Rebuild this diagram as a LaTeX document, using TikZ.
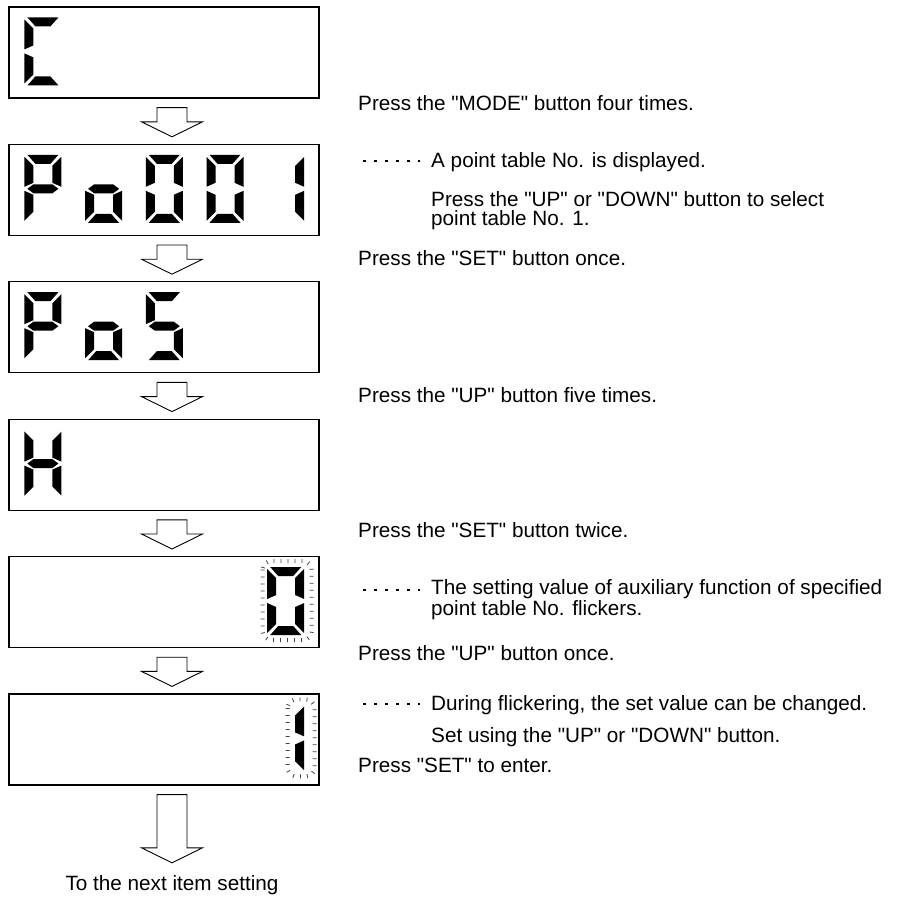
\documentclass[tikz,border=0pt]{standalone}
\usepackage{fontspec}
\setmainfont{Liberation Sans}[Ligatures=TeXOff]
\usetikzlibrary{positioning, calc, decorations.pathreplacing}

\newcommand{\lcdchar}[3]{%
  \foreach \s in {#3} \pic at ($(#1.north west)+(#2,11)$) {seg\s};}
\newcommand{\blockarrow}[3]{%
  \coordinate (top) at ($(#1.south)+(8,9)$);
  \coordinate (tip) at ($(top |- #2)+(0,-#3)$);
  \draw[blockarr] ($(top)+(-15,0)$) -- ($(top)+(15,0)$) -- ($(tip)+(15,-15)$)
    -- ($(tip)+(30.5,-15)$) -- (tip) -- ($(tip)+(-30.5,-15)$) -- ($(tip)+(-15,-15)$) -- cycle;}

\begin{document}
\begin{tikzpicture}[x=1pt, y=-1pt, node distance=45.2pt,
  lcd/.style={draw, line width=1.2pt, minimum width=310pt, minimum height=91pt, inner sep=0pt},
  blockarr/.style={draw, fill=white, line width=0.9pt, line join=miter},
  flicker/.style={draw=black!75, line width=0.8pt, rounded corners=9pt, decorate,
                  decoration={ticks, segment length=7pt, amplitude=2pt}},
  txt/.style={font=\fontsize{20.7}{19}\selectfont, anchor=base west, inner sep=0pt, align=left},
  leader/.style={line width=2.5pt, dash pattern=on 2.5pt off 8.5pt},
  sega/.pic={\fill (3,0) -- (34,0) -- (26,9) -- (11,9) -- cycle;},
  segb/.pic={\fill (37,2) -- (37,32) -- (28,28) -- (28,11) -- cycle;},
  segc/.pic={\fill (37,36) -- (37,66) -- (28,57) -- (28,40) -- cycle;},
  segd/.pic={\fill (3,68) -- (34,68) -- (26,59) -- (11,59) -- cycle;},
  sege/.pic={\fill (0,36) -- (0,66) -- (9,57) -- (9,40) -- cycle;},
  segf/.pic={\fill (0,2) -- (0,32) -- (9,28) -- (9,11) -- cycle;},
  segg/.pic={\fill (3,34) -- (9,29.5) -- (28,29.5) -- (34,34) -- (28,38.5) -- (9,38.5) -- cycle;},
]
  \useasboundingbox (0,0) rectangle (912,897);

  \node[lcd] (d1) at (164,52.5) {};
  \node[lcd, below=of d1] (d2) {};
  \node[lcd, below=of d2] (d3) {};
  \node[lcd, below=of d3] (d4) {};
  \node[lcd, below=of d4] (d5) {};
  \node[lcd, below=of d5] (d6) {};

  \lcdchar{d1}{16}{a,f,e,d}
  \lcdchar{d2}{16}{a,b,f,g,e}
  \lcdchar{d2}{76.7}{g,c,d,e}
  \lcdchar{d2}{137.4}{a,b,c,d,e,f}
  \lcdchar{d2}{198.1}{a,b,c,d,e,f}
  \lcdchar{d2}{258.8}{b,c}
  \lcdchar{d3}{16}{a,b,f,g,e}
  \lcdchar{d3}{76.7}{g,c,d,e}
  \lcdchar{d3}{137.4}{a,f,g,c,d}
  \lcdchar{d4}{16}{f,b,g,e,c}
  \lcdchar{d5}{258.8}{a,b,c,d,e,f}
  \lcdchar{d6}{258.8}{b,c}

  \draw[flicker] ($(d5.north east)+(-57,5)$) rectangle ($(d5.north east)+(-8,84)$);
  \draw[flicker] ($(d6.north east)+(-32,6)$) rectangle ($(d6.north east)+(-5,83)$);

  \node[txt, anchor=base] (nxt) at (172,890) {To the next item setting};

  \blockarrow{d1}{d2.north}{7}
  \blockarrow{d2}{d3.north}{7}
  \blockarrow{d3}{d4.north}{7}
  \blockarrow{d4}{d5.north}{7}
  \blockarrow{d5}{d6.north}{7}
  \blockarrow{d6}{nxt.north}{12}

  \node[txt] (t1) at (358,110) {Press the "MODE" button four times.};
  \node[txt] (t2) at (431,167) {A point table No. is displayed.};
  \node[txt] (t3) at (431,225) {Press the "UP" or "DOWN" button to select\\point table No. 1.};
  \node[txt] (t4) at (358,265) {Press the "SET" button once.};
  \node[txt] (t5) at (358,402) {Press the "UP" button five times.};
  \node[txt] (t6) at (358,537) {Press the "SET" button twice.};
  \node[txt] (t7) at (431,615) {The setting value of auxiliary function of specified\\point table No. flickers.};
  \node[txt] (t8) at (358,660) {Press the "UP" button once.};
  \node[txt] (t9) at (431,710) {During flickering, the set value can be changed.};
  \node[txt] (t10) at (431,742) {Set using the "UP" or "DOWN" button.};
  \node[txt] (t11) at (358,772) {Press "SET" to enter.};

  \draw[leader] ($(t2.base west)+(-68,-6)$) -- ($(t2.base west)+(-11,-6)$);
  \draw[leader] ($(t7.base west)+(-68,-25)$) -- ($(t7.base west)+(-11,-25)$);
  \draw[leader] ($(t9.base west)+(-68,-6)$) -- ($(t9.base west)+(-11,-6)$);
\end{tikzpicture}
\end{document}
